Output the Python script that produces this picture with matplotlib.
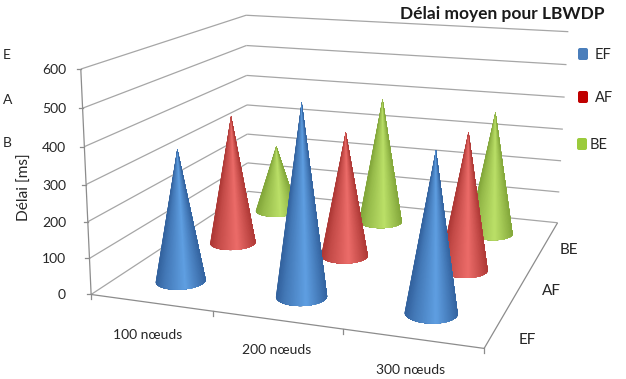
import numpy as np
import matplotlib
matplotlib.use('Agg')
import matplotlib.pyplot as plt
from matplotlib.colors import to_rgb
from matplotlib.patches import FancyBboxPatch, Polygon

title = 'Délai moyen pour LBWDP'
y_label = 'Délai [ms]'
categories = ['100 nœuds', '200 nœuds', '300 nœuds']
series = ['EF', 'AF', 'BE']
ef_values = [368, 519, 425]
af_values = [384, 365, 393]
be_values = [214, 391, 376]
z_ticks = [0, 100, 200, 300, 400, 500, 600]
stray = ['E', 'A', 'B']

plt.rcParams['font.family'] = ['Lato', 'DejaVu Sans']
fig = plt.figure(figsize=(6.26, 3.79), dpi=100)
ax = fig.add_axes([0, 0, 1, 1])
ax.set_xlim(0, 626); ax.set_ylim(379, 0); ax.axis('off')

world = [(0,0,0),(0,0,600),(0,3,0),(0,3,600),(3,3,0),(3,3,600),(3,0,0)]
screen = [(92,294),(80,69),(247,192),(247,15),(558,222),(568,32),(484,349)]
A = []
for (X,Y,Z),(x,y) in zip(world, screen):
    A.append([X,Y,Z/100,1,0,0,0,0,-x*X,-x*Y,-x*Z/100,-x])
    A.append([0,0,0,0,X,Y,Z/100,1,-y*X,-y*Y,-y*Z/100,-y])
P = np.linalg.svd(np.array(A, float))[2][-1].reshape(3,4)
def proj(u, v, z):
    q = P @ np.array([u, v, np.asarray(z)/100, 1.0*np.ones_like(u)], float)
    return q[0]/q[2], q[1]/q[2]
def line(p0, p1, **k):
    a = proj(*p0); b = proj(*p1)
    ax.plot([a[0],b[0]],[a[1],b[1]], solid_capstyle='butt', **k)

gc = '#a6a6a6'
for z in z_ticks:
    line((0,0,z),(0,3,z), color=gc, lw=0.9)
    line((0,3,z),(3,3,z), color=gc, lw=0.9)
    x,y = proj(0,0,z)
    ax.plot([x-4,x],[y,y], color='#8c8c8c', lw=0.9)
    ax.text(66, y+1, str(z), ha='right', va='center', fontsize=10, color='#262626')
line((0,0,0),(0,0,600), color='#8c8c8c', lw=0.9)
line((0,0,0),(3,0,0), color='#8c8c8c', lw=0.9)
line((3,0,0),(3,3,0), color='#8c8c8c', lw=0.9)
for i in range(4):
    x,y = proj(i,0,0)
    ax.plot([x,x],[y,y+5], color='#8c8c8c', lw=0.9)

palette = {'EF':('#33629e','#5f9fe2'),'AF':('#ad3835','#ec6c69'),'BE':('#82a63a','#bbe068')}
rad_u, rad_v = 0.19, 0.2
def cone(i, j, val, name):
    th = np.linspace(0, 2*np.pi, 121)
    u = i+.5+rad_u*np.cos(th); v = j+.5+rad_v*np.sin(th)
    bx, by = proj(u, v, np.zeros_like(u))
    ax_, ay_ = proj(i+.5, j+.5, val)
    bx, by = bx[:-1], by[:-1]
    n = len(bx)
    nx, ny = np.roll(bx,-1), np.roll(by,-1)
    cr = (bx-ax_)*(ny-ay_)-(by-ay_)*(nx-ax_)
    keep = np.sign(cr) == np.sign(cr[np.argmax(by)])
    start = next(k for k in range(n) if keep[k] and not keep[k-1])
    arc = [(start+m) % n for m in range(int(keep.sum())+1)]
    ax_pts = np.c_[bx[arc], by[arc]]
    if ax_pts[0,0] > ax_pts[-1,0]:
        ax_pts = ax_pts[::-1]
    lo, hi = ax_pts[:,0].min(), ax_pts[:,0].max()
    dk, lt = [np.array(to_rgb(c)) for c in palette[name]]
    for k in range(len(ax_pts)-1):
        t = (ax_pts[k,0]-lo)/(hi-lo)
        w = np.interp(t,[0,.15,.58,.85,1],[0,.35,1,.4,.05])
        ax.add_patch(Polygon(np.vstack([[ax_,ay_],ax_pts[k:]]), closed=True,
                             fc=dk+(lt-dk)*w, ec='none', zorder=3))

data = {'EF':ef_values,'AF':af_values,'BE':be_values}
for j in (2,1,0):
    for i in range(3):
        cone(i, j, data[series[j]][i], series[j])

tc = '#262626'
for s,(x,y) in zip(categories,[(148,335),(277,350),(411,370)]):
    ax.text(x,y,s,ha='center',va='center',fontsize=10,color=tc)
for s,(x,y) in zip(series,[(527,340),(551,291),(569,250)]):
    ax.text(x,y,s,ha='center',va='center',fontsize=11,color=tc)
ax.text(25,187,y_label,rotation=90,ha='center',va='center',fontsize=11.2,color=tc)
ax.text(502,14,title,ha='center',va='center',fontsize=12.5,fontweight='bold',color='#1a1a1a')
for s,y in zip(stray,[55,100,143]):
    ax.text(3,y,s,ha='left',va='center',fontsize=10,color=tc)
for s,(x0,y0,tx,c) in zip(series,[(578,48,595,'#4a7ebb'),(578,91,595,'#c00000'),(577,138,590,'#9bcb3c')]):
    ax.add_patch(FancyBboxPatch((x0+1.5,y0+1.5),7,9,boxstyle='round,pad=1.5,rounding_size=2',fc=c,ec='none'))
    ax.text(tx,y0+7,s,ha='left',va='center',fontsize=10.5,color=tc)
fig.savefig('out.png', dpi=100)
